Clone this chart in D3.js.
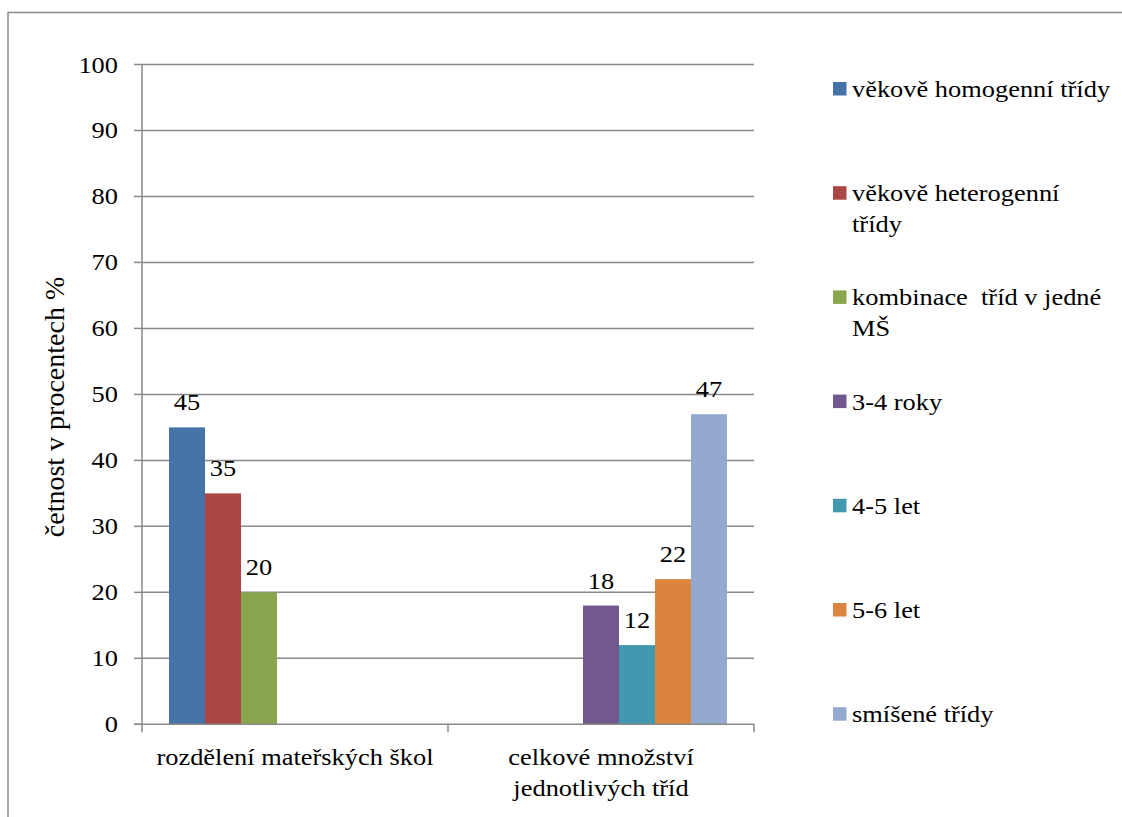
<!DOCTYPE html>
<html>
<head>
<meta charset="utf-8">
<script src="https://cdn.jsdelivr.net/npm/d3@7"></script>
</head>
<body style="margin:0">
<svg id="s" width="1122" height="817"></svg>
<script>
// Categories (x axis groups)
const categories = [
  ["rozdělení mateřských škol"],
  ["celkové množství", "jednotlivých tříd"]
];
// Series names (legend), each may wrap onto several lines
const seriesNames = [
  ["věkově homogenní třídy"],
  ["věkově heterogenní", "třídy"],
  ["kombinace\u00a0 tříd v jedné", "MŠ"],
  ["3-4 roky"],
  ["4-5 let"],
  ["5-6 let"],
  ["smíšené třídy"]
];
const seriesColors = ["#4572A7", "#AA4643", "#89A54E", "#71588F", "#4198AF", "#DB843D", "#93A9CF"];
// Values per series: [first category, second category]; null = no bar
const homogenni   = [45, null];
const heterogenni = [35, null];
const kombinace   = [20, null];
const roky34      = [null, 18];
const let45       = [null, 12];
const let56       = [null, 22];
const smisene     = [null, 47];
const seriesValues = [homogenni, heterogenni, kombinace, roky34, let45, let56, smisene];
const yTicks = [0, 10, 20, 30, 40, 50, 60, 70, 80, 90, 100];
const yTitle = "četnost v procentech %";

const svg = d3.select("#s");
const plot = { left: 142, right: 754, top: 64.5, bottom: 724.3 };
const gridColor = "#898989";
const fam = "serif";
const fs = 24, stretch = 1.1;   // text size and horizontal glyph stretch

// chart frame (left and top edges)
svg.append("path")
  .attr("d", "M8,817 L8,12.5 L1122,12.5")
  .attr("fill", "none").attr("stroke", "#8a8a8a").attr("stroke-width", 1.5);

const y = d3.scaleLinear().domain([0, 100]).range([plot.bottom, plot.top]);
const catKeys = categories.map((c, i) => i);
const x0 = d3.scaleBand().domain(catKeys).range([plot.left, plot.right]).paddingInner(0).paddingOuter(0);
const serKeys = seriesNames.map((s, i) => i);
const x1 = d3.scaleBand().domain(serKeys).range([0, x0.bandwidth()]).paddingInner(0).paddingOuter(0.75);

function label(g, tx, ty, str, anchor) {
  const t = g.append("text")
    .attr("x", tx).attr("y", ty)
    .attr("text-anchor", anchor)
    .attr("font-size", fs)
    .style("font-family", fam)
    .text(str);
  const w = t.node().getComputedTextLength();
  if (w > 0) t.attr("textLength", w * stretch).attr("lengthAdjust", "spacingAndGlyphs");
  return t;
}

// horizontal gridlines
svg.append("g").selectAll("line").data(yTicks.filter(t => t > 0)).join("line")
  .attr("x1", plot.left).attr("x2", plot.right)
  .attr("y1", d => y(d)).attr("y2", d => y(d))
  .attr("stroke", gridColor).attr("stroke-width", 1.5);

// y tick marks and labels
const yg = svg.append("g");
yg.selectAll("line").data(yTicks).join("line")
  .attr("x1", plot.left - 8).attr("x2", plot.left)
  .attr("y1", d => y(d)).attr("y2", d => y(d))
  .attr("stroke", gridColor).attr("stroke-width", 1.5);
yTicks.forEach(t => label(yg, 118, y(t) + 8, String(t), "end"));

// bars
const barG = svg.append("g");
seriesValues.forEach((vals, si) => {
  vals.forEach((v, ci) => {
    if (v == null) return;
    barG.append("rect")
      .attr("x", x0(ci) + x1(si))
      .attr("y", y(v))
      .attr("width", x1.bandwidth())
      .attr("height", y(0) - y(v))
      .attr("fill", seriesColors[si]);
  });
});

// axis lines
svg.append("line").attr("x1", plot.left).attr("x2", plot.left)
  .attr("y1", plot.top).attr("y2", plot.bottom + 8)
  .attr("stroke", gridColor).attr("stroke-width", 1.5);
svg.append("line").attr("x1", plot.left - 8).attr("x2", plot.right)
  .attr("y1", plot.bottom).attr("y2", plot.bottom)
  .attr("stroke", gridColor).attr("stroke-width", 1.5);
// category boundary ticks
svg.append("g").selectAll("line").data(catKeys.slice(1).map(k => x0(k)).concat([plot.right])).join("line")
  .attr("x1", d => d).attr("x2", d => d)
  .attr("y1", plot.bottom).attr("y2", plot.bottom + 8)
  .attr("stroke", gridColor).attr("stroke-width", 1.5);

// value labels
const lblG = svg.append("g");
seriesValues.forEach((vals, si) => {
  vals.forEach((v, ci) => {
    if (v == null) return;
    label(lblG, x0(ci) + x1(si) + x1.bandwidth() / 2, y(v) - 17, String(v), "middle");
  });
});

// category labels
const catG = svg.append("g");
categories.forEach((lines, ci) => {
  lines.forEach((ln, li) => {
    label(catG, x0(ci) + x0.bandwidth() / 2, 765 + li * 31, ln, "middle");
  });
});

// y axis title
svg.append("text")
  .attr("transform", "rotate(-90)")
  .attr("x", -407).attr("y", 64)
  .attr("text-anchor", "middle")
  .attr("font-size", 28)
  .style("font-family", fam)
  .text(yTitle);

// legend
const legG = svg.append("g");
const legTop = 82, legStep = 104.2, sw = 13.5;
seriesNames.forEach((lines, i) => {
  const top = legTop + i * legStep;
  legG.append("rect").attr("x", 833).attr("y", top).attr("width", sw).attr("height", sw)
    .attr("fill", seriesColors[i]);
  lines.forEach((ln, li) => {
    label(legG, 852, top + sw + 1.5 + li * 31, ln, "start");
  });
});
</script>
</body>
</html>
